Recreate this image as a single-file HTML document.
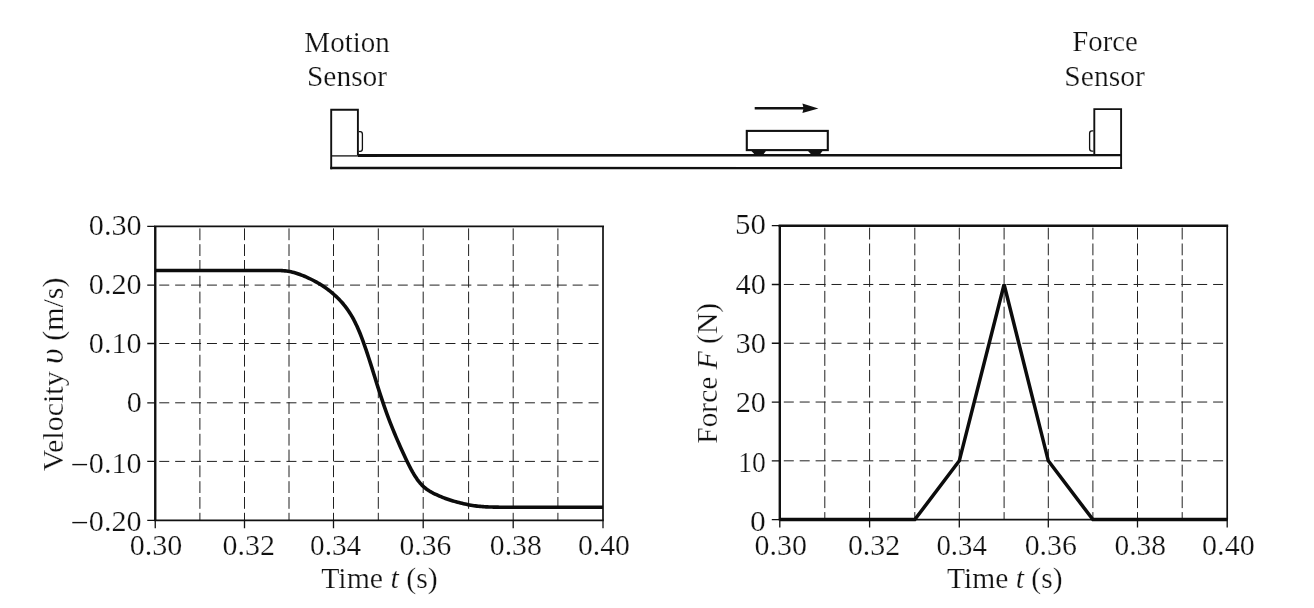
<!DOCTYPE html>
<html><head><meta charset="utf-8"><title>Cart collision</title>
<style>
html,body{margin:0;padding:0;background:#fff;}
body{width:1314px;height:608px;overflow:hidden;font-family:"Liberation Serif",serif;}
svg{display:block;will-change:transform;filter:grayscale(1);}
</style></head><body>
<svg width="1314" height="608" viewBox="0 0 1314 608">
<rect width="1314" height="608" fill="#fff"/>
<g font-family="'Liberation Serif', serif" font-size="29.2" fill="#111111" stroke="#fff" stroke-width="0.24" paint-order="fill stroke">
<text transform="translate(304.35,52.00) scale(0.9935,1.0300)">Motion</text>
<text transform="translate(306.98,86.10) scale(1.0084,1.0300)">Sensor</text>
<text transform="translate(1072.26,51.30) scale(0.9853,1.0300)">Force</text>
<text transform="translate(1064.37,85.80) scale(1.0136,1.0300)">Sensor</text>
<path d="M199.90,226.40 V520.40 M244.50,226.40 V520.40 M289.00,226.40 V520.40 M333.50,226.40 V520.40 M378.30,226.40 V520.40 M423.20,226.40 V520.40 M468.60,226.40 V520.40 M513.20,226.40 V520.40 M557.90,226.40 V520.40" fill="none" stroke="#202020" stroke-width="1.0" stroke-dasharray="11.8 4" stroke-dashoffset="-2"/>
<path d="M155.25,285.10 H603.00 M155.25,343.50 H603.00 M155.25,402.80 H603.00 M155.25,461.40 H603.00" fill="none" stroke="#202020" stroke-width="1.0" stroke-dasharray="10 5.9" stroke-dashoffset="-4"/>
<path d="M147.25,226.40 H155.25 M147.25,285.10 H155.25 M147.25,343.50 H155.25 M147.25,402.80 H155.25 M147.25,461.40 H155.25 M147.25,520.40 H155.25 M155.25,520.40 V528.20 M244.50,520.40 V528.20 M333.50,520.40 V528.20 M423.20,520.40 V528.20 M513.20,520.40 V528.20 M603.00,520.40 V528.20" fill="none" stroke="#111111" stroke-width="1.3"/>
<path d="M154.05,226.40 H604.00" stroke="#111111" stroke-width="1.80" fill="none"/>
<path d="M154.05,520.40 H603.80" stroke="#111111" stroke-width="1.6" fill="none"/>
<path d="M603.00,226.40 V520.40" stroke="#111111" stroke-width="1.7" fill="none"/>
<path d="M155.25,226.40 V520.40" stroke="#111111" stroke-width="2.4" fill="none"/>
<text transform="translate(88.85,234.80) scale(1.0350,1.0300)">0.30</text>
<text transform="translate(88.85,293.70) scale(1.0350,1.0300)">0.20</text>
<text transform="translate(88.85,353.10) scale(1.0350,1.0300)">0.10</text>
<text transform="translate(126.63,412.20) scale(1.0350,1.0300)">0</text>
<text transform="translate(88.85,472.90) scale(1.0350,1.0300)">0.10</text>
<path d="M72.3,464.60 H87.1" stroke="#111111" stroke-width="1.4" fill="none"/>
<text transform="translate(88.85,530.90) scale(1.0350,1.0300)">0.20</text>
<path d="M72.3,522.60 H87.1" stroke="#111111" stroke-width="1.4" fill="none"/>
<text transform="translate(129.72,555.40) scale(1.0316,1.0300)">0.30</text>
<text transform="translate(222.47,555.40) scale(1.0268,1.0300)">0.32</text>
<text transform="translate(310.10,555.40) scale(1.0010,1.0300)">0.34</text>
<text transform="translate(399.49,555.40) scale(1.0132,1.0300)">0.36</text>
<text transform="translate(489.78,555.40) scale(1.0184,1.0300)">0.38</text>
<text transform="translate(577.88,555.40) scale(1.0204,1.0300)">0.40</text>
<text transform="translate(321.19,588.00) scale(1.0218,1.0300)">Time <tspan font-style="italic">t</tspan> (s)</text>
<text transform="translate(62.70,471.26) rotate(-90) scale(1.0270,1.03)">Velocity <tspan font-style="italic" font-size="33">υ</tspan> (m/s)</text>
<path d="M824.80,225.70 V519.60 M869.60,225.70 V519.60 M914.80,225.70 V519.60 M959.30,225.70 V519.60 M1004.10,225.70 V519.60 M1048.30,225.70 V519.60 M1092.90,225.70 V519.60 M1137.50,225.70 V519.60 M1182.20,225.70 V519.60" fill="none" stroke="#202020" stroke-width="1.0" stroke-dasharray="11.8 4" stroke-dashoffset="-2"/>
<path d="M779.80,284.48 H1227.20 M779.80,343.26 H1227.20 M779.80,402.04 H1227.20 M779.80,460.82 H1227.20" fill="none" stroke="#202020" stroke-width="1.0" stroke-dasharray="10 5.9" stroke-dashoffset="-4"/>
<path d="M771.80,225.70 H779.80 M771.80,284.48 H779.80 M771.80,343.26 H779.80 M771.80,402.04 H779.80 M771.80,460.82 H779.80 M771.80,519.60 H779.80 M779.80,519.60 V527.40 M869.60,519.60 V527.40 M959.30,519.60 V527.40 M1048.30,519.60 V527.40 M1137.50,519.60 V527.40 M1227.20,519.60 V527.40" fill="none" stroke="#111111" stroke-width="1.3"/>
<path d="M778.60,225.70 H1228.20" stroke="#111111" stroke-width="2.50" fill="none"/>
<path d="M778.60,519.60 H1228.00" stroke="#111111" stroke-width="1.6" fill="none"/>
<path d="M1227.20,225.70 V519.60" stroke="#111111" stroke-width="1.7" fill="none"/>
<path d="M779.80,225.70 V519.60" stroke="#111111" stroke-width="2.4" fill="none"/>
<text transform="translate(735.05,234.40) scale(1.0590,1.0300)">50</text>
<text transform="translate(735.58,293.60) scale(1.0400,1.0300)">40</text>
<text transform="translate(735.43,352.70) scale(1.0453,1.0300)">30</text>
<text transform="translate(735.71,411.60) scale(1.0355,1.0300)">20</text>
<text transform="translate(738.24,472.40) scale(0.9451,1.0300)">10</text>
<text transform="translate(750.12,530.60) scale(1.0800,1.0300)">0</text>
<text transform="translate(754.47,555.40) scale(1.0265,1.0300)">0.30</text>
<text transform="translate(847.88,555.40) scale(1.0247,1.0300)">0.32</text>
<text transform="translate(936.41,555.40) scale(0.9889,1.0300)">0.34</text>
<text transform="translate(1024.68,555.40) scale(1.0234,1.0300)">0.36</text>
<text transform="translate(1114.49,555.40) scale(1.0061,1.0300)">0.38</text>
<text transform="translate(1202.07,555.40) scale(1.0306,1.0300)">0.40</text>
<text transform="translate(947.09,587.90) scale(1.0120,1.0300)">Time <tspan font-style="italic">t</tspan> (s)</text>
<text transform="translate(716.80,443.76) rotate(-90) scale(1.0095,1.03)">Force <tspan font-style="italic">F</tspan> (N)</text>
</g>
<path d="M155.25,270.50 L270.0,270.50 L271.5,270.50 L273.0,270.50 L274.5,270.50 L276.0,270.50 L277.5,270.51 L279.0,270.53 L280.5,270.57 L282.0,270.63 L283.5,270.73 L285.0,270.87 L286.5,271.04 L288.0,271.27 L289.5,271.53 L291.0,271.84 L292.5,272.19 L294.0,272.59 L295.5,273.02 L297.0,273.48 L298.5,273.99 L300.0,274.52 L301.5,275.08 L303.0,275.67 L304.5,276.28 L306.0,276.92 L307.5,277.59 L309.0,278.28 L310.5,279.00 L312.0,279.74 L313.5,280.51 L315.0,281.31 L316.5,282.14 L318.0,283.00 L319.5,283.90 L321.0,284.82 L322.5,285.79 L324.0,286.79 L325.5,287.83 L327.0,288.91 L328.5,290.03 L330.0,291.20 L331.5,292.41 L333.0,293.68 L334.5,294.99 L336.0,296.36 L337.5,297.80 L339.0,299.30 L340.5,300.87 L342.0,302.53 L343.5,304.28 L345.0,306.13 L346.5,308.10 L348.0,310.20 L349.5,312.45 L351.0,314.85 L352.5,317.43 L354.0,320.20 L355.5,323.17 L357.0,326.34 L358.5,329.72 L360.0,333.31 L361.5,337.11 L363.0,341.10 L364.5,345.27 L366.0,349.61 L367.5,354.09 L369.0,358.69 L370.5,363.40 L372.0,368.16 L373.5,372.96 L375.0,377.79 L376.5,382.59 L378.0,387.36 L379.5,392.07 L381.0,396.68 L382.5,401.19 L384.0,405.60 L385.5,409.88 L387.0,414.04 L388.5,418.09 L390.0,422.03 L391.5,425.86 L393.0,429.60 L394.5,433.25 L396.0,436.83 L397.5,440.34 L399.0,443.79 L400.5,447.19 L402.0,450.54 L403.5,453.83 L405.0,457.06 L406.5,460.22 L408.0,463.30 L409.5,466.28 L411.0,469.15 L412.5,471.87 L414.0,474.44 L415.5,476.85 L417.0,479.06 L418.5,481.10 L420.0,482.95 L421.5,484.62 L423.0,486.12 L424.5,487.48 L426.0,488.69 L427.5,489.78 L429.0,490.78 L430.5,491.68 L432.0,492.51 L433.5,493.30 L435.0,494.03 L436.5,494.74 L438.0,495.42 L439.5,496.07 L441.0,496.71 L442.5,497.32 L444.0,497.90 L445.5,498.47 L447.0,499.01 L448.5,499.53 L450.0,500.02 L451.5,500.49 L453.0,500.94 L454.5,501.36 L456.0,501.77 L457.5,502.17 L459.0,502.56 L460.5,502.94 L462.0,503.31 L463.5,503.66 L465.0,504.01 L466.5,504.34 L468.0,504.65 L469.5,504.94 L471.0,505.21 L472.5,505.46 L474.0,505.69 L475.5,505.90 L477.0,506.09 L478.5,506.26 L480.0,506.40 L481.5,506.53 L483.0,506.65 L484.5,506.74 L486.0,506.83 L487.5,506.90 L489.0,506.96 L490.5,507.01 L492.0,507.05 L493.5,507.08 L495.0,507.12 L496.5,507.14 L498.0,507.17 L499.5,507.19 L501.0,507.21 L502.5,507.23 L504.0,507.25 L505.5,507.26 L507.0,507.28 L508.5,507.29 L510.0,507.29 L511.5,507.30 L513.0,507.30 L514.5,507.30 L516.0,507.30 L517.5,507.30 L519.0,507.30 L520.5,507.30 L522.0,507.30 L523.5,507.30 L525.0,507.30 L526.5,507.30 L528.0,507.30 L529.5,507.30 L603.0,507.30" fill="none" stroke="#0c0c0c" stroke-width="3.6" stroke-linejoin="round"/>
<path d="M779.80,519.60 L914.80,519.60 L959.30,460.82 L1004.10,284.48 L1048.30,460.82 L1092.90,519.60 L1227.20,519.60" fill="none" stroke="#0c0c0c" stroke-width="3.5" stroke-linejoin="miter"/>
<g fill="none" stroke="#111111">
<path d="M358,153.9 L1121,153.95 L1121,156.35 L358,156.9 Z" fill="#111111" stroke="none"/>
<path d="M331,155.9 H358" stroke-width="1.3"/>
<path d="M330.3,166.85 L1122.1,166.9 L1122.1,169.1 L330.3,169.35 Z" fill="#111111" stroke="none"/>
<path d="M331.2,169.2 V109.8 H357.9 V155.3" stroke-width="1.9"/>
<path d="M358.8,131.6 H360.2 Q362.4,131.6 362.4,134.2 V148.8 Q362.4,151.4 360.2,151.4 H358.8" stroke-width="1.3"/>
<path d="M1094.3,155.3 V109.1 H1121.1 V169.1" stroke-width="1.9"/>
<path d="M1093.4,130.9 H1092 Q1089.6,130.9 1089.6,133.5 V148.5 Q1089.6,151.1 1092,151.1 H1093.4" stroke-width="1.3"/>
<rect x="746.8" y="130.9" width="81" height="19.2" stroke-width="2.1"/>
</g>
<path d="M751.4,150.9 H765.9 L763.3,154.4 H754.7 Z M808,150.9 H822.5 L819.9,154.4 H811.3 Z" fill="#111111"/>
<path d="M754.7,108.3 H805" stroke="#111111" stroke-width="2.4" fill="none"/>
<path d="M802.4,103.6 L818.4,108.4 L802.4,113 L803.6,108.3 Z" fill="#111111"/>
</svg>
</body></html>
